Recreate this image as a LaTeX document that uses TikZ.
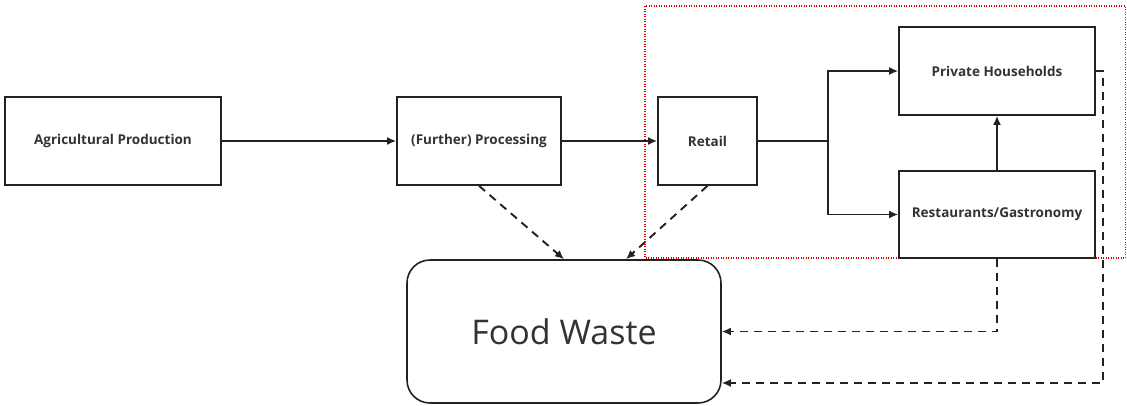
\documentclass[tikz,border=0pt]{standalone}
\usepackage{fontspec}
\setmainfont{Open Sans}
\usetikzlibrary{arrows.meta}
\definecolor{ink}{HTML}{222222}
\definecolor{txt}{HTML}{333333}
\begin{document}
\begin{tikzpicture}[x=1pt,y=-1pt,
  stage/.style={draw=ink, line width=1.6pt, fill=white, inner sep=0pt,
    font=\fontsize{13.5}{16}\selectfont\bfseries, text=txt},
  flow/.style={draw=ink, line width=1.9pt, -{Latex[length=9pt,width=8pt]}},
  loss/.style={draw=ink, line width=1.9pt, dash pattern=on 8pt off 6pt,
    -{Latex[length=9pt,width=8pt]}}]
\useasboundingbox (0,0) rectangle (1127,405);
\fill[white] (0,0) rectangle (1127,405);

% consumption area
\draw[red!90!black, line width=1.2pt, dash pattern=on 1.2pt off 1.3pt] (645,6) rectangle (1125.4,258);

% stages of the chain
\node[stage, minimum width=216pt, minimum height=88pt] (agri) at (113,141) {Agricultural Production};
\node[stage, minimum width=164pt, minimum height=88pt] (proc) at (479,141) {(Further) Processing};
\node[stage, minimum width=99pt, minimum height=88pt] (retail) at (707.5,141) {Retail};
\node[stage, minimum width=196pt, minimum height=88pt] (house) at (997,71) {Private Households};
\node[stage, minimum width=196pt, minimum height=87pt] (rest) at (997,214.5) {Restaurants/Gastronomy};
\node[draw=ink, line width=1.6pt, rounded corners=23pt, minimum width=314pt, minimum height=143pt,
  font=\fontsize{34}{40}\selectfont, text=txt] (waste) at (564,331.5) {Food Waste};

\coordinate (split) at (828,141);
\coordinate (drop) at (1103,71);

% product flow
\draw[flow] (agri) -- (proc);
\draw[flow] (proc) -- (retail);
\draw[draw=ink, line width=1.9pt] (retail.east) -- (split);
\draw[flow] (split) |- (house.west);
\draw[flow] (split) |- (rest.west);
\draw[flow] (rest.north) -- (house.south);

% losses to food waste
\draw[loss] (proc.south) -- (waste.north);
\draw[loss] (retail.south) -- ([xshift=62pt]waste.north);
\draw[loss] (rest.south) |- (waste.east);
\draw[loss] (house.east) -- (drop) |- ([yshift=-51.5pt]waste.east);
\end{tikzpicture}
\end{document}
